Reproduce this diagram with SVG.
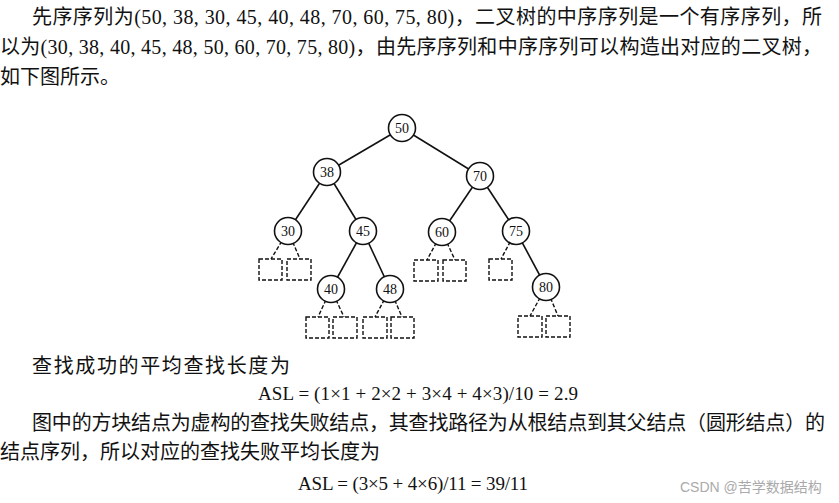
<svg xmlns="http://www.w3.org/2000/svg" width="839" height="503" viewBox="0 0 839 503">
<style>
.t{font-family:"Liberation Serif","Noto Sans CJK SC",serif;font-size:20px;fill:#111;}
.f{font-family:"Liberation Serif","Noto Sans CJK SC",serif;font-size:19px;fill:#111;}
.n circle{fill:#fff;stroke:#111;stroke-width:1.6;}
.n text{font-family:"Liberation Serif",serif;font-size:14px;fill:#111;text-anchor:middle;}
.sq{fill:none;stroke:#111;stroke-width:1.4;stroke-dasharray:4 2;}
.e{stroke:#111;stroke-width:1.6;fill:none;}
.d{stroke:#111;stroke-width:1.4;fill:none;stroke-dasharray:4 2;}
.wm{font-family:"Liberation Sans","Noto Sans CJK SC",sans-serif;font-size:14px;fill:#aaa;}
</style>
<rect width="839" height="503" fill="#fff"/>
<text class="t" x="32" y="24" textLength="790" lengthAdjust="spacing">先序序列为(50, 38, 30, 45, 40, 48, 70, 60, 75, 80)，二叉树的中序序列是一个有序序列，所</text>
<text class="t" x="0" y="54" textLength="822" lengthAdjust="spacing">以为(30, 38, 40, 45, 48, 50, 60, 70, 75, 80)，由先序序列和中序序列可以构造出对应的二叉树，</text>
<text class="t" x="0" y="84">如下图所示。</text>
<g id="connectors">
<line class="e" x1="402" y1="128" x2="327" y2="172"/>
<line class="e" x1="402" y1="128" x2="480" y2="176"/>
<line class="e" x1="327" y1="172" x2="288" y2="231"/>
<line class="e" x1="327" y1="172" x2="363" y2="231"/>
<line class="e" x1="480" y1="176" x2="442" y2="232"/>
<line class="e" x1="480" y1="176" x2="516" y2="231"/>
<line class="e" x1="363" y1="231" x2="331" y2="289"/>
<line class="e" x1="363" y1="231" x2="390" y2="289"/>
<line class="e" x1="516" y1="231" x2="546" y2="287"/>
<line class="d" x1="288" y1="231" x2="271" y2="259"/>
<line class="d" x1="288" y1="231" x2="300" y2="259"/>
<line class="d" x1="442" y1="232" x2="427" y2="260"/>
<line class="d" x1="442" y1="232" x2="455" y2="260"/>
<line class="d" x1="516" y1="231" x2="501" y2="259"/>
<line class="d" x1="331" y1="289" x2="318" y2="317"/>
<line class="d" x1="331" y1="289" x2="344" y2="317"/>
<line class="d" x1="390" y1="289" x2="375" y2="317"/>
<line class="d" x1="390" y1="289" x2="402" y2="317"/>
<line class="d" x1="546" y1="287" x2="530" y2="316"/>
<line class="d" x1="546" y1="287" x2="558" y2="316"/>
</g>
<g id="n50" class="n"><circle cx="402" cy="128" r="13.5"/><text x="402" y="133">50</text></g>
<g id="n38" class="n"><circle cx="327" cy="172" r="13.5"/><text x="327" y="177">38</text></g>
<g id="n70" class="n"><circle cx="480" cy="176" r="13.5"/><text x="480" y="181">70</text></g>
<g id="n30" class="n"><circle cx="288" cy="231" r="13.5"/><text x="288" y="236">30</text></g>
<g id="n45" class="n"><circle cx="363" cy="231" r="13.5"/><text x="363" y="236">45</text></g>
<g id="n60" class="n"><circle cx="442" cy="232" r="13.5"/><text x="442" y="237">60</text></g>
<g id="n75" class="n"><circle cx="516" cy="231" r="13.5"/><text x="516" y="236">75</text></g>
<g id="n40" class="n"><circle cx="331" cy="289" r="13.5"/><text x="331" y="294">40</text></g>
<g id="n48" class="n"><circle cx="390" cy="289" r="13.5"/><text x="390" y="294">48</text></g>
<g id="n80" class="n"><circle cx="546" cy="287" r="13.5"/><text x="546" y="292">80</text></g>
<g id="f30a"><rect class="sq" x="259" y="259" width="23" height="21"/></g>
<g id="f30b"><rect class="sq" x="287" y="259" width="24" height="21"/></g>
<g id="f60a"><rect class="sq" x="414" y="260" width="24" height="21"/></g>
<g id="f60b"><rect class="sq" x="443" y="260" width="23" height="21"/></g>
<g id="f75a"><rect class="sq" x="489" y="259" width="23" height="21"/></g>
<g id="f40a"><rect class="sq" x="306" y="317" width="23" height="21"/></g>
<g id="f40b"><rect class="sq" x="333" y="317" width="24" height="21"/></g>
<g id="f48a"><rect class="sq" x="363" y="317" width="24" height="21"/></g>
<g id="f48b"><rect class="sq" x="391" y="317" width="23" height="21"/></g>
<g id="f80a"><rect class="sq" x="518" y="316" width="24" height="21"/></g>
<g id="f80b"><rect class="sq" x="546" y="316" width="24" height="21"/></g>
<text class="t" x="32" y="373" textLength="258" lengthAdjust="spacing">查找成功的平均查找长度为</text>
<text class="f" x="258" y="400" textLength="320" lengthAdjust="spacing">ASL = (1×1 + 2×2 + 3×4 + 4×3)/10 = 2.9</text>
<text class="t" x="32" y="430" textLength="793" lengthAdjust="spacing">图中的方块结点为虚构的查找失败结点，其查找路径为从根结点到其父结点（圆形结点）的</text>
<text class="t" x="0" y="459">结点序列，所以对应的查找失败平均长度为</text>
<text class="f" x="298" y="490" textLength="230" lengthAdjust="spacing">ASL = (3×5 + 4×6)/11 = 39/11</text>
<text class="wm" x="680" y="492">CSDN @苦学数据结构</text>
</svg>
